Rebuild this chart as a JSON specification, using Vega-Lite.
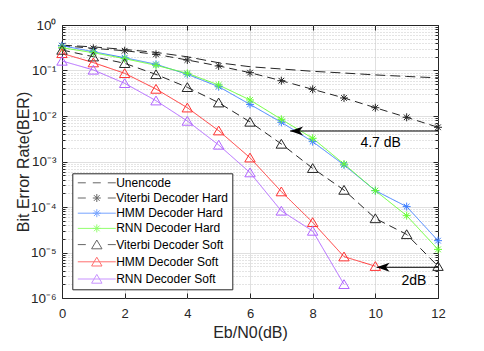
{
  "$schema": "https://vega.github.io/schema/vega-lite/v6.json",
  "width": 376,
  "height": 273,
  "autosize": {"type": "none"},
  "padding": {"left": 62, "top": 25, "right": 46, "bottom": 53},
  "background": "white",
  "config": {
    "view": {"stroke": "#262626", "strokeWidth": 1},
    "font": "Liberation Sans",
    "axis": {"labelFont": "Liberation Sans", "titleFont": "Liberation Sans", "labelColor": "#262626", "titleColor": "#262626", "tickColor": "#262626", "domain": false, "titleFontWeight": "normal"}
  },
  "datasets": {
    "ber": [
      {"series": "Unencode", "x": 0, "ber": 0.36},
      {"series": "Unencode", "x": 1, "ber": 0.33},
      {"series": "Unencode", "x": 2, "ber": 0.29},
      {"series": "Unencode", "x": 3, "ber": 0.25},
      {"series": "Unencode", "x": 4, "ber": 0.2},
      {"series": "Unencode", "x": 5, "ber": 0.148},
      {"series": "Unencode", "x": 6, "ber": 0.121},
      {"series": "Unencode", "x": 7, "ber": 0.108},
      {"series": "Unencode", "x": 8, "ber": 0.096},
      {"series": "Unencode", "x": 9, "ber": 0.088},
      {"series": "Unencode", "x": 10, "ber": 0.08},
      {"series": "Unencode", "x": 11, "ber": 0.074},
      {"series": "Unencode", "x": 12, "ber": 0.069},
      {"series": "Viterbi Decoder Hard", "x": 0, "ber": 0.351},
      {"series": "Viterbi Decoder Hard", "x": 1, "ber": 0.307},
      {"series": "Viterbi Decoder Hard", "x": 2, "ber": 0.272},
      {"series": "Viterbi Decoder Hard", "x": 3, "ber": 0.227},
      {"series": "Viterbi Decoder Hard", "x": 4, "ber": 0.17},
      {"series": "Viterbi Decoder Hard", "x": 5, "ber": 0.126},
      {"series": "Viterbi Decoder Hard", "x": 6, "ber": 0.0895},
      {"series": "Viterbi Decoder Hard", "x": 7, "ber": 0.0597},
      {"series": "Viterbi Decoder Hard", "x": 8, "ber": 0.0386},
      {"series": "Viterbi Decoder Hard", "x": 9, "ber": 0.0249},
      {"series": "Viterbi Decoder Hard", "x": 10, "ber": 0.0152},
      {"series": "Viterbi Decoder Hard", "x": 11, "ber": 0.00936},
      {"series": "Viterbi Decoder Hard", "x": 12, "ber": 0.00565},
      {"series": "HMM Decoder Hard", "x": 0, "ber": 0.351},
      {"series": "HMM Decoder Hard", "x": 1, "ber": 0.259},
      {"series": "HMM Decoder Hard", "x": 2, "ber": 0.191},
      {"series": "HMM Decoder Hard", "x": 3, "ber": 0.137},
      {"series": "HMM Decoder Hard", "x": 4, "ber": 0.0824},
      {"series": "HMM Decoder Hard", "x": 5, "ber": 0.0441},
      {"series": "HMM Decoder Hard", "x": 6, "ber": 0.018},
      {"series": "HMM Decoder Hard", "x": 7, "ber": 0.00726},
      {"series": "HMM Decoder Hard", "x": 8, "ber": 0.00273},
      {"series": "HMM Decoder Hard", "x": 9, "ber": 0.00084},
      {"series": "HMM Decoder Hard", "x": 10, "ber": 0.000229},
      {"series": "HMM Decoder Hard", "x": 11, "ber": 0.000102},
      {"series": "HMM Decoder Hard", "x": 12, "ber": 0.0000182},
      {"series": "RNN Decoder Hard", "x": 0, "ber": 0.317},
      {"series": "RNN Decoder Hard", "x": 1, "ber": 0.246},
      {"series": "RNN Decoder Hard", "x": 2, "ber": 0.182},
      {"series": "RNN Decoder Hard", "x": 3, "ber": 0.13},
      {"series": "RNN Decoder Hard", "x": 4, "ber": 0.0868},
      {"series": "RNN Decoder Hard", "x": 5, "ber": 0.048},
      {"series": "RNN Decoder Hard", "x": 6, "ber": 0.0225},
      {"series": "RNN Decoder Hard", "x": 7, "ber": 0.00846},
      {"series": "RNN Decoder Hard", "x": 8, "ber": 0.00324},
      {"series": "RNN Decoder Hard", "x": 9, "ber": 0.00088},
      {"series": "RNN Decoder Hard", "x": 10, "ber": 0.000229},
      {"series": "RNN Decoder Hard", "x": 11, "ber": 0.0000645},
      {"series": "RNN Decoder Hard", "x": 12, "ber": 0.0000117},
      {"series": "Viterbi Decoder Soft", "x": 0, "ber": 0.282},
      {"series": "Viterbi Decoder Soft", "x": 1, "ber": 0.201},
      {"series": "Viterbi Decoder Soft", "x": 2, "ber": 0.144},
      {"series": "Viterbi Decoder Soft", "x": 3, "ber": 0.082},
      {"series": "Viterbi Decoder Soft", "x": 4, "ber": 0.0427},
      {"series": "Viterbi Decoder Soft", "x": 5, "ber": 0.0196},
      {"series": "Viterbi Decoder Soft", "x": 6, "ber": 0.0074},
      {"series": "Viterbi Decoder Soft", "x": 7, "ber": 0.00243},
      {"series": "Viterbi Decoder Soft", "x": 8, "ber": 0.00071},
      {"series": "Viterbi Decoder Soft", "x": 9, "ber": 0.000236},
      {"series": "Viterbi Decoder Soft", "x": 10, "ber": 0.000056},
      {"series": "Viterbi Decoder Soft", "x": 11, "ber": 0.000025},
      {"series": "Viterbi Decoder Soft", "x": 12, "ber": 0.000005},
      {"series": "HMM Decoder Soft", "x": 0, "ber": 0.238},
      {"series": "HMM Decoder Soft", "x": 1, "ber": 0.149},
      {"series": "HMM Decoder Soft", "x": 2, "ber": 0.0867},
      {"series": "HMM Decoder Soft", "x": 3, "ber": 0.0392},
      {"series": "HMM Decoder Soft", "x": 4, "ber": 0.0152},
      {"series": "HMM Decoder Soft", "x": 5, "ber": 0.00476},
      {"series": "HMM Decoder Soft", "x": 6, "ber": 0.00121},
      {"series": "HMM Decoder Soft", "x": 7, "ber": 0.000218},
      {"series": "HMM Decoder Soft", "x": 8, "ber": 0.000046},
      {"series": "HMM Decoder Soft", "x": 9, "ber": 0.0000081},
      {"series": "HMM Decoder Soft", "x": 10, "ber": 0.000005},
      {"series": "RNN Decoder Soft", "x": 0, "ber": 0.162},
      {"series": "RNN Decoder Soft", "x": 1, "ber": 0.103},
      {"series": "RNN Decoder Soft", "x": 2, "ber": 0.0523},
      {"series": "RNN Decoder Soft", "x": 3, "ber": 0.0217},
      {"series": "RNN Decoder Soft", "x": 4, "ber": 0.00776},
      {"series": "RNN Decoder Soft", "x": 5, "ber": 0.00231},
      {"series": "RNN Decoder Soft", "x": 6, "ber": 0.00057},
      {"series": "RNN Decoder Soft", "x": 7, "ber": 0.000082},
      {"series": "RNN Decoder Soft", "x": 8, "ber": 0.0000297},
      {"series": "RNN Decoder Soft", "x": 9, "ber": 0.000002}
    ],
    "notes": [
      {"label": "4.7 dB", "x": 7.28, "x2": 12, "y": 0.00468, "tx": 10.17, "ty": 0.00251},
      {"label": "2dB", "x": 10.04, "x2": 12, "y": 0.00000473, "tx": 11.23, "ty": 0.0000024}
    ]
  },
  "layer": [
    {
      "data": {"name": "ber"},
      "mark": {"type": "line", "strokeWidth": 1},
      "encoding": {
        "x": {"field": "x", "type": "quantitative",
          "scale": {"domain": [0, 12], "nice": false, "zero": false},
          "axis": {"orient": "bottom", "values": [0, 2, 4, 6, 8, 10, 12], "title": "Eb/N0(dB)", "titleFontSize": 16, "titlePadding": 4,
            "labelFontSize": 13, "labelPadding": 14, "tickSize": -5, "labelFlush": false, "grid": true, "gridColor": "#e0e0e0",
            "gridOpacity": {"condition": {"test": "datum.value == 0 || datum.value == 12", "value": 0}, "value": 1}}},
        "y": {"field": "ber", "type": "quantitative",
          "scale": {"type": "log", "domain": [0.000001, 1], "nice": false},
          "axis": {"orient": "left",
            "values": [0.000001, 0.000002, 0.000003, 0.000004, 0.000005, 0.000006, 0.000007, 0.000008, 0.000009, 0.00001, 0.00002, 0.00003, 0.00004, 0.00005, 0.00006, 0.00007, 0.00008, 0.00009, 0.0001, 0.0002, 0.0003, 0.0004, 0.0005, 0.0006, 0.0007, 0.0008, 0.0009, 0.001, 0.002, 0.003, 0.004, 0.005, 0.006, 0.007, 0.008, 0.009, 0.01, 0.02, 0.03, 0.04, 0.05, 0.06, 0.07, 0.08, 0.09, 0.1, 0.2, 0.3, 0.4, 0.5, 0.6, 0.7, 0.8, 0.9, 1],
            "title": "Bit Error Rate(BER)", "titleFontSize": 16, "titleX": -31,
            "labelFontSize": 13.5, "labelPadding": 11, "labelOverlap": false, "labelFlush": false,
            "labelExpr": "abs(log(datum.value)/LN10 - round(log(datum.value)/LN10)) < 0.01 ? ['10⁰','10⁻¹','10⁻²','10⁻³','10⁻⁴','10⁻⁵','10⁻⁶'][round(-log(datum.value)/LN10)] : ''",
            "tickSize": {"condition": {"test": "abs(log(datum.value)/LN10 - round(log(datum.value)/LN10)) < 0.01", "value": -5}, "value": -3},
            "grid": true,
            "gridColor": {"condition": {"test": "abs(log(datum.value)/LN10 - round(log(datum.value)/LN10)) < 0.01", "value": "#e0e0e0"}, "value": "#c8c8c8"},
            "gridDash": {"condition": {"test": "abs(log(datum.value)/LN10 - round(log(datum.value)/LN10)) < 0.01", "value": []}, "value": [1, 2]},
            "gridOpacity": {"condition": {"test": "datum.value > 0.999 || datum.value < 0.00000101", "value": 0}, "value": 1}}},
        "color": {"field": "series", "type": "nominal",
          "scale": {"domain": ["RNN Decoder Soft", "HMM Decoder Soft", "Viterbi Decoder Soft", "RNN Decoder Hard", "HMM Decoder Hard", "Viterbi Decoder Hard", "Unencode"],
            "range": ["#b266ff", "#ff3333", "#262626", "#66ff33", "#3f7fff", "#262626", "#262626"]},
          "legend": null},
        "strokeDash": {"field": "series", "type": "nominal",
          "scale": {"domain": ["RNN Decoder Soft", "HMM Decoder Soft", "Viterbi Decoder Soft", "RNN Decoder Hard", "HMM Decoder Hard", "Viterbi Decoder Hard", "Unencode"],
            "range": [[1, 0], [1, 0], [8, 5], [1, 0], [1, 0], [8, 5], [10, 5]]},
          "legend": null}
      }
    },
    {
      "data": {"name": "ber"},
      "transform": [{"filter": {"field": "series", "oneOf": ["Viterbi Decoder Hard", "HMM Decoder Hard", "RNN Decoder Hard"]}}],
      "mark": {"type": "point", "filled": false, "size": 64, "strokeWidth": 1, "opacity": 1,
        "shape": "M-1,0H1M0,-1V1M-0.71,-0.71L0.71,0.71M-0.71,0.71L0.71,-0.71"},
      "encoding": {
        "x": {"field": "x", "type": "quantitative", "axis": null},
        "y": {"field": "ber", "type": "quantitative", "axis": null},
        "color": {"field": "series", "type": "nominal", "legend": null}
      }
    },
    {
      "data": {"name": "ber"},
      "transform": [{"filter": {"field": "series", "oneOf": ["Viterbi Decoder Soft", "HMM Decoder Soft", "RNN Decoder Soft"]}}],
      "mark": {"type": "point", "filled": false, "size": 64, "strokeWidth": 1, "opacity": 1,
        "shape": "M0,-1.15L1.3,1.05L-1.3,1.05Z"},
      "encoding": {
        "x": {"field": "x", "type": "quantitative", "axis": null},
        "y": {"field": "ber", "type": "quantitative", "axis": null},
        "color": {"field": "series", "type": "nominal", "legend": null}
      }
    },
    {
      "data": {"name": "ber"},
      "transform": [{"filter": "datum.x > 100"}],
      "mark": {"type": "point", "filled": false, "size": 64, "strokeWidth": 1},
      "encoding": {
        "x": {"field": "x", "type": "quantitative",
          "axis": {"orient": "top", "values": [0, 2, 4, 6, 8, 10, 12], "labels": false, "grid": false, "tickSize": -5, "title": null}},
        "y": {"field": "ber", "type": "quantitative",
          "axis": {"orient": "right",
            "values": [0.000001, 0.000002, 0.000003, 0.000004, 0.000005, 0.000006, 0.000007, 0.000008, 0.000009, 0.00001, 0.00002, 0.00003, 0.00004, 0.00005, 0.00006, 0.00007, 0.00008, 0.00009, 0.0001, 0.0002, 0.0003, 0.0004, 0.0005, 0.0006, 0.0007, 0.0008, 0.0009, 0.001, 0.002, 0.003, 0.004, 0.005, 0.006, 0.007, 0.008, 0.009, 0.01, 0.02, 0.03, 0.04, 0.05, 0.06, 0.07, 0.08, 0.09, 0.1, 0.2, 0.3, 0.4, 0.5, 0.6, 0.7, 0.8, 0.9, 1],
            "labels": false, "grid": false, "title": null,
            "tickSize": {"condition": {"test": "abs(log(datum.value)/LN10 - round(log(datum.value)/LN10)) < 0.01", "value": -5}, "value": -3}}},
        "stroke": {"field": "series", "type": "nominal",
          "scale": {"domain": ["Unencode", "Viterbi Decoder Hard", "HMM Decoder Hard", "RNN Decoder Hard", "Viterbi Decoder Soft", "HMM Decoder Soft", "RNN Decoder Soft"],
            "range": ["#262626", "#262626", "#3f7fff", "#66ff33", "#262626", "#ff3333", "#b266ff"]},
          "legend": {"orient": "none", "legendX": 10.3, "legendY": 148.3, "title": null, "strokeColor": "#262626", "fillColor": "white", "padding": 3.5, "rowPadding": 3.2,
            "symbolOffset": 15, "labelOffset": 13.4, "labelFont": "Liberation Sans", "labelFontSize": 12, "labelColor": "#000000", "symbolStrokeWidth": 1, "symbolSize": 64, "labelLimit": 220, "cornerRadius": 0}},
        "shape": {"field": "series", "type": "nominal",
          "scale": {"domain": ["Unencode", "Viterbi Decoder Hard", "HMM Decoder Hard", "RNN Decoder Hard", "Viterbi Decoder Soft", "HMM Decoder Soft", "RNN Decoder Soft"],
            "range": [
              "M-4.75,0H-2.75M-1,0H1M2.75,0H4.75",
              "M-4.75,0H-2.75M2.75,0H4.75M-1,0H1M0,-1V1M-0.71,-0.71L0.71,0.71M-0.71,0.71L0.71,-0.71",
              "M-4.75,0H4.75M-1,0H1M0,-1V1M-0.71,-0.71L0.71,0.71M-0.71,0.71L0.71,-0.71",
              "M-4.75,0H4.75M-1,0H1M0,-1V1M-0.71,-0.71L0.71,0.71M-0.71,0.71L0.71,-0.71",
              "M-4.75,0H-2.75M2.75,0H4.75M0,-1.15L1.3,1.05L-1.3,1.05Z",
              "M-4.75,0H4.75M0,-1.15L1.3,1.05L-1.3,1.05Z",
              "M-4.75,0H4.75M0,-1.15L1.3,1.05L-1.3,1.05Z"
            ]},
          "legend": {"orient": "none", "legendX": 10.3, "legendY": 148.3, "title": null, "strokeColor": "#262626", "fillColor": "white", "padding": 3.5, "rowPadding": 3.2,
            "symbolOffset": 15, "labelOffset": 13.4, "labelFont": "Liberation Sans", "labelFontSize": 12, "labelColor": "#000000", "symbolStrokeWidth": 1, "symbolSize": 64, "labelLimit": 220, "cornerRadius": 0}}
      }
    },
    {
      "data": {"name": "notes"},
      "mark": {"type": "rule", "color": "#000000", "strokeWidth": 1},
      "encoding": {
        "x": {"field": "x", "type": "quantitative", "axis": null},
        "x2": {"field": "x2"},
        "y": {"field": "y", "type": "quantitative", "axis": null}
      }
    },
    {
      "data": {"name": "notes"},
      "mark": {"type": "point", "filled": true, "color": "#000000", "opacity": 1, "size": 676, "strokeWidth": 0,
        "shape": "M0,0L1,-0.35L0.72,0L1,0.35Z"},
      "encoding": {
        "x": {"field": "x", "type": "quantitative", "axis": null},
        "y": {"field": "y", "type": "quantitative", "axis": null}
      }
    },
    {
      "data": {"name": "notes"},
      "mark": {"type": "text", "font": "Liberation Sans", "fontSize": 14, "color": "#000000", "align": "center", "baseline": "middle"},
      "encoding": {
        "x": {"field": "tx", "type": "quantitative", "axis": null},
        "y": {"field": "ty", "type": "quantitative", "axis": null},
        "text": {"field": "label"}
      }
    }
  ],
  "resolve": {"axis": {"x": "independent", "y": "independent"}}
}
